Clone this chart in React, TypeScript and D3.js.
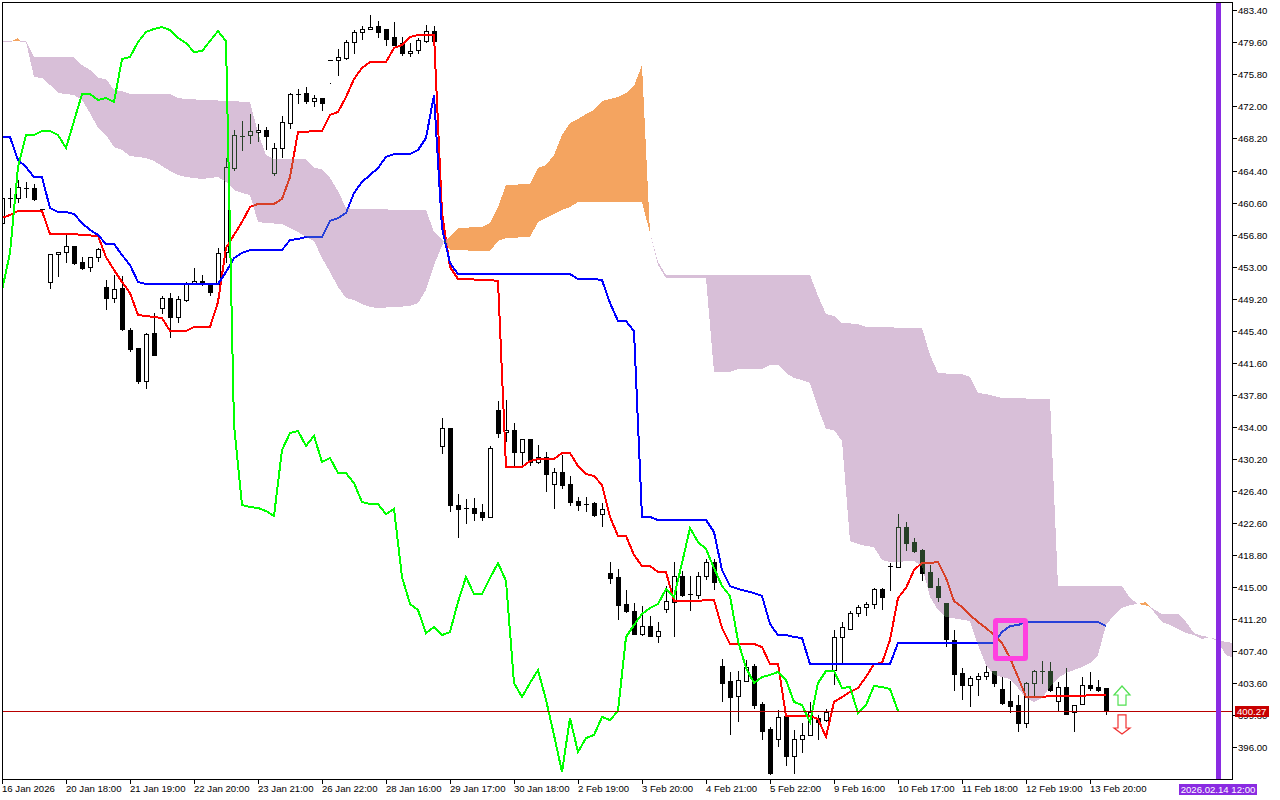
import React from "react";
import * as d3 from "d3";

type V = [number, number];

const opens = [458.26,461.23,461.23,462.42,462.42,459.92,451.26,454.58,454.82,455.53,453.63,453.04,454.22,450.66,449.36,450.54,445.56,443.42,439.5,445.2,448.17,449.36,447.1,449.12,451.02,451.37,451.02,451.02,454.82,464.79,468.59,468.71,469.07,469.31,464.2,467.17,470.14,473.58,473.7,472.75,473.11,477.62,477.62,477.85,479.75,480.95,481.3,481.65,481.3,480.35,479.64,478.45,478.8,479.87,481.06,431.78,433.92,424.77,424.42,424.42,423.94,423.35,436.05,433.44,433.68,431.07,432.61,429.88,430.47,427.27,428.69,427.27,425.25,424.89,425.01,423.7,416.7,416.22,413.02,412.19,409.45,410.4,409.22,412.42,413.25,416.34,414.2,414.09,416.34,418,405.65,403.87,402.09,403.87,405.65,401.14,398.17,396.99,399.72,394.97,396.99,397.46,399.48,399.24,405.18,409.1,410.05,411.95,412.66,413.02,414.8,417.53,417.41,422.16,420.38,419.43,416.82,415.15,413.14,408.74,404.82,403.4,404.11,404.47,405.06,402.92,401.5,401.02,398.89,403.64,405.06,405.06,401.5,403.16,400.19,401.14,403.4,403.16,403.04];
const highs = [461.23,462.42,463.37,463.13,462.89,459.92,454.58,454.82,456.84,455.53,454.22,454.22,455.29,451.49,452.09,451.97,445.79,443.42,445.2,447.57,449.59,449.95,449.59,451.26,452.92,452.09,451.14,455.29,465.98,469.31,470.37,471.2,470.02,469.66,467.76,470.97,473.7,474.17,474.41,473.46,473.11,474.89,478.92,479.99,481.18,481.65,482.96,482.25,481.3,482.13,480.35,479.64,480.23,481.77,481.65,435.1,433.92,426.08,425.49,425.6,424.89,431.78,437.12,437.24,434.51,432.61,432.61,431.9,431.07,429.17,430.71,428.22,425.72,425.72,425.13,425.01,418,417.17,414.68,413.14,412.78,411.59,410.88,415.15,418,416.94,416.34,416.82,418.36,418.36,406.49,404.94,405.06,406.37,405.89,401.38,398.41,400.43,399.84,398.05,398.89,401.38,399.84,400.55,409.93,410.88,412.19,412.9,413.25,414.92,414.92,417.89,423.71,422.76,420.86,419.55,417.65,416.11,413.14,409.93,405.42,404.47,404.82,405.65,405.06,404.35,403.87,402.21,403.75,405.18,406.25,406.13,403.75,405.42,401.02,404.35,404.94,403.99,403.04];
const lows = [458.26,460.16,460.76,461.35,460.99,459.92,450.55,451.97,453.63,453.39,452.8,452.56,453.75,448.05,448.88,445.56,443.06,439.26,438.67,442.59,447.57,444.72,446.5,449,451.02,450.9,449.71,451.02,453.63,464.55,466.93,467.76,468,467.05,463.96,466.1,469.54,472.51,472.51,472.15,471.68,474.89,475.84,477.74,478.45,480.11,481.3,480.35,479.4,479.4,478.21,478.09,478.45,479.75,479.87,430.95,424.06,420.97,422.64,423,423,423.35,432.85,432.37,429.52,429.29,429.52,429.76,426.44,424.42,426.79,424.77,424.18,424.06,423.47,422.28,415.51,411.24,412.07,409.45,409.34,409.22,408.5,412.07,409.22,413.97,412.3,413.73,415.99,414.8,401.5,397.58,399.12,403.87,400.67,396.99,392.83,396.15,393.9,392.95,395.44,397.46,396.99,399.12,403.52,405.89,410.05,411.59,411.71,412.54,412.42,414.68,417.41,419.43,419.19,415.87,415.04,413.37,408.03,402.8,401.74,400.91,402.21,404.11,403.28,401.14,400.19,397.94,398.41,402.21,403.64,402.69,400.31,399.95,397.94,401.14,402.8,402.69,399.95];
const closes = [461.23,461.23,462.54,462.42,461.11,459.92,454.58,454.82,455.53,453.51,452.92,454.22,455.17,449.36,450.42,445.68,443.3,439.5,445.08,442.59,449.36,447.1,449.24,451.02,451.37,451.02,450.07,454.7,464.91,468.71,468.59,469.19,469.31,468.59,467.17,470.25,473.58,473.58,472.75,473.11,472.51,477.62,477.97,479.75,480.95,481.3,481.54,480.95,480.11,479.4,478.45,478.69,479.99,481.06,479.87,433.92,424.77,424.3,424.42,423.82,423.35,431.54,433.32,433.68,431.07,432.61,429.88,430.47,428.45,428.69,427.15,425.13,424.77,424.89,423.59,424.3,416.11,412.9,412.19,409.45,410.4,409.22,409.81,413.37,416.34,414.09,414.2,416.34,418,415.63,403.64,401.97,403.99,405.54,401.02,397.94,392.95,399.6,394.97,396.99,397.46,400.19,399,400.19,409.1,410.29,411.95,412.66,413.02,414.8,413.85,417.53,422.16,420.26,419.31,416.7,415.04,413.85,408.86,404.7,403.4,404.23,404.47,404.94,403.64,401.26,400.91,398.89,403.64,405.06,405.06,402.8,403.16,399.95,401.02,403.4,403.04,402.8,400.27];

const tenkan: V[] = [[0,458.86],[1,459.21],[2,459.69],[5,459.69],[6,456.95],[9,456.95],[10,456.84],[12,456.72],[13,454.22],[14,452.68],[15,451.26],[16,449.95],[17,447.34],[20,446.98],[21,445.44],[23,445.44],[24,445.91],[26,445.91],[27,448.88],[28,455.29],[29,456.84],[30,458.38],[31,460.16],[32,460.52],[34,460.52],[35,461.11],[36,463.72],[37,469.07],[40,469.19],[41,471.09],[42,471.44],[43,473.22],[44,475.36],[45,476.67],[46,477.38],[48,477.38],[49,479.04],[50,479.4],[51,480.35],[52,480.59],[54,480.59],[55,459.45],[56,453.04],[57,451.61],[61,451.49],[62,451.37],[63,429.29],[65,429.29],[66,430],[67,430.24],[69,430.24],[70,430.95],[71,430.95],[72,429.4],[73,428.45],[74,428.22],[75,427.15],[76,423.35],[77,421.09],[78,421.09],[79,418.84],[80,417.53],[81,417.53],[82,416.82],[83,416.82],[84,413.37],[87,413.37],[88,413.49],[89,413.49],[90,410.17],[91,408.27],[94,408.27],[95,407.91],[96,405.89],[97,405.89],[98,399.72],[101,399.72],[102,399.36],[103,397.22],[104,401.38],[105,401.97],[106,402.57],[107,403.04],[108,404.35],[109,405.89],[110,406.01],[111,408.74],[112,413.73],[113,414.92],[114,417.05],[115,417.89],[116,417.89],[117,418],[118,416.11],[119,413.37],[120,412.66],[121,411.71],[122,410.88],[123,410.17],[124,409.34],[125,408.39],[126,406.6],[127,404.35],[128,401.97],[130,401.97],[131,402.09],[135,402.09],[136,402.21],[138,402.21]];
const kijun: V[] = [[0,468.47],[1,468.47],[2,465.74],[3,464.91],[4,463.72],[5,463.72],[6,460.04],[7,459.57],[8,459.57],[9,459.33],[10,458.26],[11,457.43],[12,456.84],[13,455.77],[14,455.77],[15,454.46],[16,453.27],[17,451.26],[18,451.02],[27,451.02],[28,452.44],[29,454.1],[30,454.7],[31,455.05],[35,455.05],[36,456.24],[37,456.36],[38,456.6],[40,456.6],[41,458.5],[42,458.85],[43,459.45],[44,461.82],[45,463.13],[46,463.96],[47,464.79],[48,466.1],[49,466.45],[51,466.45],[52,466.93],[53,468.35],[54,473.46],[55,457.67],[56,453.51],[57,452.2],[71,452.2],[72,451.61],[74,451.61],[75,451.49],[76,448.76],[77,446.62],[78,446.62],[79,445.43],[80,423.35],[81,423.35],[82,422.99],[88,422.99],[89,421.57],[90,417.05],[91,415.15],[92,414.8],[93,414.56],[94,414.32],[95,413.97],[96,410.64],[97,409.33],[98,409.33],[99,409.1],[100,408.98],[101,405.89],[111,405.89],[112,408.39],[124,408.39],[125,409.69],[126,410.4],[127,410.52],[128,410.88],[137,410.88],[138,410.4]];
const chikou = [450.3,454.7,464.91,468.71,468.71,469.19,469.19,468.71,467.17,470.37,473.58,473.58,472.87,473.1,472.63,477.73,477.97,479.75,480.94,481.3,481.53,481.18,480.23,479.63,478.57,478.68,479.87,481.06,479.87,434.27,424.77,424.53,424.42,424.06,423.47,431.3,433.32,433.56,431.78,432.97,429.88,430.35,428.57,428.57,427.38,425.13,424.89,424.89,423.7,424.3,416.22,413.02,412.3,409.57,410.28,409.33,409.69,413.25,416.22,414.2,414.2,416.1,417.88,415.75,403.63,401.97,403.63,405.18,401.62,397.46,393.07,399.48,395.44,397.1,397.46,399.6,399.24,400.31,409.1,410.52,411.83,412.54,413.02,414.8,413.85,417.88,422.04,420.38,419.55,417.29,415.15,413.97,408.62,405.42,403.63,404.35,404.59,404.94,403.99,401.38,401.02,399,403.63,405.06,405.06,403.04,403.16,400.07,401.02,403.28,403.16,402.92,400.31];

const kumoStartUpper: V[] = [[0,479.92],[1.25,479.92]];
const kumoStartLower: V[] = [[0,479.81],[1.25,479.81]];
const twistStartUpper: V[] = [[1.25,479.87],[2,480.23],[2.25,479.87]];
const twistStartLower: V[] = [[1.25,479.87],[2.25,479.87]];
const kumoAUpper: V[] = [[2.25,479.92],[3,479.92],[4,477.97],[9,477.97],[10,477.02],[11,476.43],[12,475.48],[13,475.36],[14,474.05],[15,473.93],[16,473.58],[21,473.58],[22,473.1],[23,472.98],[31,472.63],[32,468.95],[33,466.33],[34,465.86],[38,465.86],[39,464.79],[40,464.67],[41,463.6],[42,462.06],[43,460.04],[44,459.92],[53,459.8],[54,457.19],[55.25,456.12]];
const kumoALower: V[] = [[2.25,479.81],[3,479.81],[4,475.6],[5,475.48],[6,474.65],[7,473.7],[9,473.46],[10,472.87],[11,471.32],[12,469.54],[13,468.71],[14,467.28],[15,466.93],[16,466.21],[17,466.1],[18,465.98],[19,465.62],[20,465.03],[21,464.43],[22,463.96],[23,463.72],[24,463.6],[25,463.48],[26,463.6],[27,463.72],[28,463.13],[29,462.18],[30,461.82],[31,461.58],[32,458.38],[33,458.26],[35,458.14],[36,457.67],[37,457.19],[38,456.6],[39,456.12],[40,454.1],[41,452.44],[42,450.66],[43,449.35],[44,449.12],[45,448.64],[46,448.28],[47,448.17],[49,448.28],[51,448.4],[52,448.76],[53,450.3],[54,453.27],[55.25,456.12]];
const twistBUpper: V[] = [[55.25,456.12],[56,456.6],[57,457.67],[60,457.79],[61,458.26],[62,460.16],[63,462.77],[66,462.89],[67,464.79],[68,465.15],[69,466.33],[70,468.71],[71,470.13],[72,470.61],[73,471.2],[74,471.68],[75,472.75],[76,472.98],[77,473.22],[78,473.7],[79,474.53],[80,477.02],[81,457.07]];
const twistBLower: V[] = [[55.25,456.12],[56,455.05],[61,454.93],[62,456.12],[63,456.48],[66,456.6],[67,458.38],[68,458.85],[69,459.33],[70,459.8],[71,460.16],[72,460.75],[80,460.75],[81,457.07]];
const kumoCUpper: V[] = [[81,457.07],[82,453.63],[83,452.08],[101,452.08],[102,449.59],[103,447.45],[104,447.22],[105,446.39],[107,446.27],[108,445.91],[115,445.79],[116,442.58],[117,440.45],[119,440.33],[120,440.33],[121,439.97],[122,438.07],[123,437.95],[124,437.72],[125,437.48],[131,437.36],[132,415.15],[140,415.15],[141,413.73],[142,413.02]];
const kumoCLower: V[] = [[81,457.07],[82,453.27],[83,451.73],[88,451.73],[89,440.57],[91,440.57],[92,440.92],[95,440.92],[96,441.4],[97,441.4],[98,440.45],[99,439.85],[100,439.62],[101,439.26],[102,436.29],[103,433.8],[104,433.68],[105,432.37],[106,420.5],[107,420.14],[108,419.9],[109,419.78],[110,418.24],[111,418],[114,418.12],[115,417.53],[116,413.85],[117,412.3],[118,411.47],[121,410.99],[122,408.15],[123,405.77],[124,404.58],[125,404.35],[126,404.11],[127,403.04],[128,401.85],[129,401.38],[130,401.85],[131,403.16],[132,404.23],[133,404.82],[134,405.18],[135,405.53],[136,406.01],[137,406.96],[138,410.52],[139,411.71],[140,412.54],[141,412.9],[142,413.02]];
const twistDUpper: V[] = [[142,413.02],[143,413.25],[143.5,412.66]];
const twistDLower: V[] = [[142,413.02],[143,412.84],[143.5,412.66]];
const kumoEUpper: V[] = [[143.5,412.66],[145,411.83],[147,411.83],[148,410.88],[149,409.57],[150,409.22],[151,409.1],[152,408.74],[153,408.5],[154,408.39]];
const kumoELower: V[] = [[143.5,412.66],[145,410.88],[146,410.52],[147,410.05],[148,409.57],[149,409.33],[150,408.86],[151,409.1],[152,408.5],[153,406.96],[154,406.6]];

const priceTicks = [483.4,479.6,475.8,472,468.2,464.4,460.6,456.8,453,449.2,445.4,441.6,437.8,434,430.2,426.4,422.6,418.8,415,411.2,407.4,403.6,399.8,396];
const timeLabels = ["16 Jan 2026","20 Jan 18:00","21 Jan 19:00","22 Jan 20:00","23 Jan 21:00","26 Jan 22:00","28 Jan 16:00","29 Jan 17:00","30 Jan 18:00","2 Feb 19:00","3 Feb 20:00","4 Feb 21:00","5 Feb 22:00","9 Feb 16:00","10 Feb 17:00","11 Feb 18:00","12 Feb 19:00","13 Feb 20:00"];
const timeStep = 8;
const lastPrice = 400.27;
const markerBar = 152;
const markerLabel = "2026.02.14 12:00";
const boxBars = [124, 128];
const boxPrices = [411.06, 406.54];
const signalBar = 140;
const upSignal = [403.28, 401.02];
const downSignal = [399.84, 397.58];

const W = 1280, H = 800;
const L = 2, R = 1232, T = 2, B = 779;
const FONT = "'Liberation Sans', Arial, sans-serif";
const x = d3.scaleLinear().domain([0, 138]).range([2, 1106]);
const y = d3.scaleLinear().domain([396, 483.4]).range([747.3, 11.3]);
const axisY = d3.scaleLinear().domain([396, 483.4]).range([747.3, 10.3]);
const vline = d3.line<V>().x(d => x(d[0])).y(d => y(d[1]));
const bandPath = (u: V[], l: V[]) => vline([...u, ...l.slice().reverse()]) + "Z";

const KUMO = "rgb(39,64,39)"; // difference against white gives thistle
const TWIST = "rgb(11,91,159)"; // difference against white gives sandy brown

export default function App() {
  const bands: [V[], V[], string][] = [
    [kumoStartUpper, kumoStartLower, KUMO],
    [twistStartUpper, twistStartLower, TWIST],
    [kumoAUpper, kumoALower, KUMO],
    [twistBUpper, twistBLower, TWIST],
    [kumoCUpper, kumoCLower, KUMO],
    [twistDUpper, twistDLower, TWIST],
    [kumoEUpper, kumoELower, KUMO],
  ];
  const ly = Math.round(y(lastPrice)) + 0.5;
  const cx = x(signalBar);
  const uT = y(upSignal[0]), uB = y(upSignal[1]);
  const dT = y(downSignal[0]), dB = y(downSignal[1]);
  const upArrow = `M${cx} ${uT}L${cx + 8} ${uT + 9}H${cx + 4}V${uB}H${cx - 4}V${uT + 9}H${cx - 8}Z`;
  const downArrow = `M${cx} ${dB}L${cx + 8} ${dB - 6}H${cx + 4}V${dT}H${cx - 4}V${dB - 6}H${cx - 8}Z`;
  const ts = { fontFamily: FONT, fontSize: 9.6, fill: "#000" };
  return (
    <svg width={W} height={H} viewBox={`0 0 ${W} ${H}`} style={{ position: "absolute", left: 0, top: 0, display: "block" }}>
      <defs>
        <clipPath id="plot"><rect x={L} y={T} width={R - L} height={B - T} /></clipPath>
      </defs>
      <rect width={W} height={H} fill="#fff" />
      <g clipPath="url(#plot)">
        <rect width={W} height={H} fill="#fff" />
        <g shapeRendering="crispEdges">
          {opens.map((o, i) => {
            const c = closes[i];
            const px = x(i);
            const top = Math.round(y(Math.max(o, c)));
            const bot = Math.round(y(Math.min(o, c)));
            const hi = Math.round(y(highs[i]));
            const lo = Math.round(y(lows[i]));
            return (
              <g key={i}>
                <rect x={px} y={hi} width={1} height={Math.max(1, lo - hi + 1)} fill="#000" />
                {c > o && bot > top ? (
                  <rect x={px - 1.5} y={top + 0.5} width={4} height={bot - top} fill="#fff" stroke="#000" />
                ) : (
                  <rect x={px - 2} y={top} width={5} height={Math.max(1, bot - top + 1)} fill="#000" />
                )}
              </g>
            );
          })}
        </g>
        <path d={vline(tenkan)!} fill="none" stroke="#f00" strokeWidth={2} shapeRendering="crispEdges" />
        <path d={vline(kijun)!} fill="none" stroke="#00f" strokeWidth={2} shapeRendering="crispEdges" />
        {bands.map(([u, l, col], i) => (
          <path key={i} d={bandPath(u, l)} fill={col} shapeRendering="crispEdges" style={{ mixBlendMode: "difference" }} />
        ))}
        <path d={d3.line<number>().x((_, i) => x(i)).y(d => y(d))(chikou)!} fill="none" stroke="#0f0" strokeWidth={2} shapeRendering="crispEdges" />
      </g>
      <line x1={L} x2={R} y1={ly} y2={ly} stroke="#b80000" strokeWidth={1} shapeRendering="crispEdges" />
      <rect x={x(boxBars[0]) + 1.5} y={y(boxPrices[0])} width={x(boxBars[1]) - x(boxBars[0]) - 2} height={y(boxPrices[1]) - y(boxPrices[0])} fill="none" stroke="#ff40e0" strokeWidth={5} rx={1} />
      <path d={upArrow} fill="#fff" stroke="#50e050" strokeWidth={1.2} />
      <path d={downArrow} fill="#fff" stroke="#f03030" strokeWidth={1.2} />
      <rect x={x(markerBar) - 2} y={T + 1} width={5} height={B - T - 1} fill="#8a2be2" />
      <rect x={L + 0.5} y={T + 0.5} width={R - L} height={B - T} fill="none" stroke="#000" shapeRendering="crispEdges" />
      {priceTicks.map(p => {
        const ty = Math.round(axisY(p)) + 0.5;
        return (
          <g key={p}>
            <line x1={R} x2={R + 5} y1={ty} y2={ty} stroke="#000" shapeRendering="crispEdges" />
            <text x={R + 6} y={ty + 3} {...ts}>{p.toFixed(2)}</text>
          </g>
        );
      })}
      {timeLabels.map((t, i) => {
        const tx = x(i * timeStep);
        return (
          <g key={t}>
            <rect x={tx} y={B} width={1} height={5} fill="#000" shapeRendering="crispEdges" />
            <text x={tx} y={791.5} {...ts}>{t}</text>
          </g>
        );
      })}
      <rect x={R + 3} y={ly - 5.5} width={34} height={11} fill="#c80000" />
      <text x={R + 5} y={ly + 3.5} {...ts} fill="#fff">{lastPrice.toFixed(2)}</text>
      <rect x={x(markerBar) - 39} y={784} width={78} height={11} fill="#8a2be2" />
      <text x={x(markerBar)} y={792.8} {...ts} fill="#fff" textAnchor="middle">{markerLabel}</text>
    </svg>
  );
}
